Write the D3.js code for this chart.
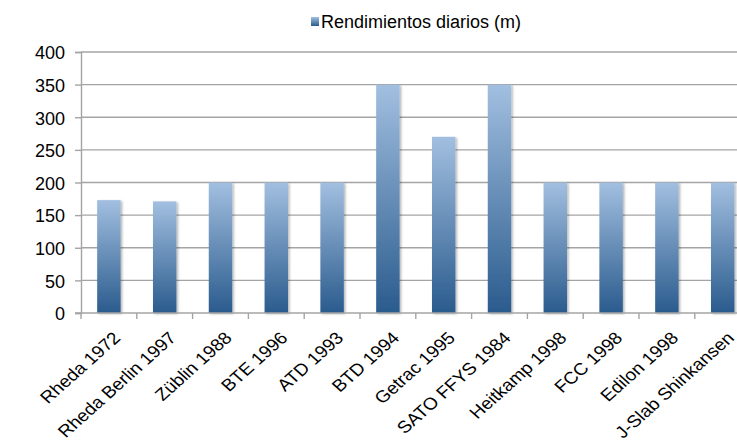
<!DOCTYPE html>
<html><head><meta charset="utf-8">
<script src="https://cdn.jsdelivr.net/npm/d3@7"></script>
<style>body{margin:0;background:#fff;} text{font-family:"Liberation Sans",Arial,sans-serif;fill:#000;}</style>
</head><body>
<svg id="c" width="737" height="444"></svg>
<script>
const categories = ["Rheda 1972","Rheda Berlin 1997","Züblin 1988","BTE 1996","ATD 1993","BTD 1994","Getrac 1995","SATO FFYS 1984","Heitkamp 1998","FCC 1998","Edilon 1998","J-Slab Shinkansen"];
const values = [173,171,200,200,200,350,270,350,200,200,200,200];
const yTicks = [0,50,100,150,200,250,300,350,400];
const seriesName = "Rendimientos diarios (m)";

(function(){
const svg = d3.select("#c");
const defs = svg.append("defs");
const g1 = defs.append("linearGradient").attr("id","bg").attr("x1",0).attr("y1",0).attr("x2",0).attr("y2",1);
g1.append("stop").attr("offset","0%").attr("stop-color","#a2bfe0");
g1.append("stop").attr("offset","100%").attr("stop-color","#2a5b8d");
const f = defs.append("filter").attr("id","sh").attr("x","-20%").attr("y","-5%").attr("width","150%").attr("height","115%");
f.append("feDropShadow").attr("dx",1.5).attr("dy",1).attr("stdDeviation",1.2).attr("flood-color","#000").attr("flood-opacity",0.3);

const mLeft = 81, mTop = 52, mBottom = 313;
const step = 55.8;
const x = d3.scaleBand().domain(categories).range([mLeft, mLeft + step*categories.length]).paddingInner(0.58).paddingOuter(0.29);
const y = d3.scaleLinear().domain([0,400]).range([mBottom, mTop]);
const gridCol = "#a4a4a4";

// gridlines
svg.append("g").selectAll("line").data(yTicks.filter(d=>d>0)).join("line")
  .attr("x1",mLeft).attr("x2",737).attr("y1",d=>y(d)).attr("y2",d=>y(d))
  .attr("stroke",gridCol).attr("stroke-width",1.4);

// y axis
const ya = svg.append("g").attr("transform",`translate(${mLeft},0)`)
  .call(d3.axisLeft(y).tickValues(yTicks).tickSize(6).tickPadding(10));
ya.select(".domain").attr("stroke",gridCol).attr("stroke-width",1.4);
ya.selectAll(".tick line").attr("stroke",gridCol).attr("stroke-width",1.4);
ya.selectAll("text").style("font-size","18px").attr("fill","#000").attr("font-family","Liberation Sans, Arial, sans-serif").attr("dy","0.38em");

// bars
svg.append("g").selectAll("rect").data(values).join("rect")
  .attr("x",(d,i)=>x(categories[i])).attr("width",x.bandwidth())
  .attr("y",d=>y(d)).attr("height",d=>mBottom-y(d))
  .attr("fill","url(#bg)").attr("filter","url(#sh)");

// x axis
const xa = svg.append("g").attr("transform",`translate(0,${mBottom})`)
  .call(d3.axisBottom(x).tickSize(0));
xa.select(".domain").remove();
const bounds = d3.range(categories.length+1).map(i=>mLeft+i*step);
svg.append("g").selectAll("line").data(bounds).join("line")
  .attr("x1",d=>d).attr("x2",d=>d).attr("y1",mBottom).attr("y2",mBottom+6)
  .attr("stroke",gridCol).attr("stroke-width",1.4);
svg.append("line").attr("x1",mLeft-6).attr("x2",737).attr("y1",mBottom).attr("y2",mBottom)
  .attr("stroke",gridCol).attr("stroke-width",1.4);
xa.selectAll(".tick text").style("font-size","17px").attr("fill","#000").attr("font-family","Liberation Sans, Arial, sans-serif")
  .attr("text-anchor","end").attr("dy",0).attr("y",0)
  .attr("transform","translate(12.5,26) scale(1.12,1) rotate(-45)");

// legend
svg.append("rect").attr("x",311).attr("y",17).attr("width",8).attr("height",9).attr("fill","url(#bg)");
svg.append("text").attr("x",321).attr("y",28).style("font-size","18px").text(seriesName);
})();
</script>
</body></html>
